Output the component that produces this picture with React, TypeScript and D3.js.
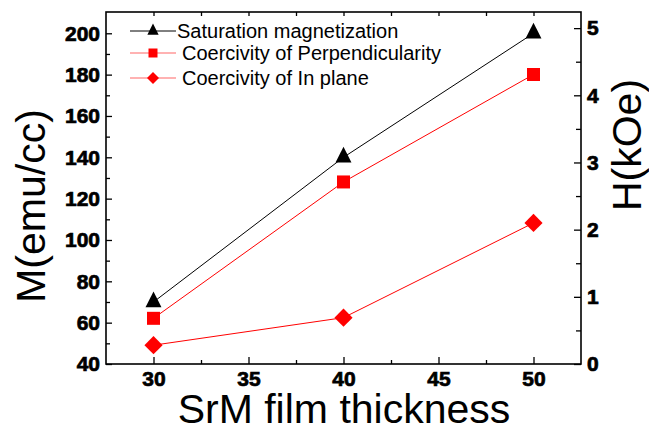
import React, { useEffect, useRef } from 'react';
import * as d3 from 'd3';

// film thickness (x) and the three measured series
const thickness = [30, 40, 50];
const saturation = [70, 140, 200]; // emu/cc, left axis
const coercivityPerp = [0.68, 2.71, 4.31]; // kOe, right axis
const coercivityInPlane = [0.28, 0.69, 2.1]; // kOe, right axis

const xTicks = [30, 35, 40, 45, 50];
const xMinor = [32.5, 37.5, 42.5, 47.5];
const leftTicks = [40, 60, 80, 100, 120, 140, 160, 180, 200];
const leftMinor = [50, 70, 90, 110, 130, 150, 170, 190];
const rightTicks = [0, 1, 2, 3, 4, 5];
const rightMinor = [0.5, 1.5, 2.5, 3.5, 4.5];

const legendLabels = ['Saturation magnetization', 'Coercivity of Perpendicularity', 'Coercivity of In plane'];

const W = 649, H = 428;
const FONT = 'Arial, "Liberation Sans", sans-serif';

export default function App() {
  const ref = useRef<SVGSVGElement | null>(null);

  useEffect(() => {
    const svg = d3.select(ref.current);
    svg.selectAll('*').remove();

    const left = 106, right = 581, top = 12, bottom = 364;

    const x = d3.scaleLinear().domain([27.5, 52.5]).range([left, right]);
    const yL = d3.scaleLinear().domain([40, 210.3]).range([bottom, top]);
    const yR = d3.scaleLinear().domain([0, 5.24]).range([bottom, top]);

    // axes (ticks point inward), heavy tick labels
    const styleAxis = (g: any) => {
      g.select('.domain').remove();
      g.selectAll('line').attr('stroke', '#000').attr('stroke-width', 1.3);
      g.selectAll('text')
        .style('font-family', FONT)
        .style('font-weight', 'bold')
        .style('font-size', '21px')
        .attr('fill', '#000')
        .attr('stroke', '#000')
        .attr('stroke-width', 0.7);
    };

    svg.append('g').attr('transform', `translate(0,${bottom})`)
      .call(d3.axisBottom(x).tickValues(xTicks).tickSize(-7).tickPadding(7).tickFormat(d3.format('d')))
      .call(styleAxis);
    svg.append('g').attr('transform', `translate(0,${bottom})`)
      .call(d3.axisBottom(x).tickValues(xMinor).tickSize(-4).tickFormat(() => ''))
      .call(styleAxis);
    svg.append('g').attr('transform', `translate(0,${top})`)
      .call(d3.axisTop(x).tickValues(xTicks.concat(xMinor)).tickSize(-4).tickFormat(() => ''))
      .call(styleAxis);

    svg.append('g').attr('transform', `translate(${left},0)`)
      .call(d3.axisLeft(yL).tickValues(leftTicks).tickSize(-6).tickPadding(6).tickFormat(d3.format('d')))
      .call(styleAxis);
    svg.append('g').attr('transform', `translate(${left},0)`)
      .call(d3.axisLeft(yL).tickValues(leftMinor).tickSize(-4).tickFormat(() => ''))
      .call(styleAxis);

    svg.append('g').attr('transform', `translate(${right},0)`)
      .call(d3.axisRight(yR).tickValues(rightTicks).tickSize(-7).tickPadding(6).tickFormat(d3.format('d')))
      .call(styleAxis);
    svg.append('g').attr('transform', `translate(${right},0)`)
      .call(d3.axisRight(yR).tickValues(rightMinor).tickSize(-5).tickFormat(() => ''))
      .call(styleAxis);

    // frame
    svg.append('rect')
      .attr('x', left).attr('y', top)
      .attr('width', right - left).attr('height', bottom - top)
      .attr('fill', 'none').attr('stroke', '#000').attr('stroke-width', 1.6);

    // axis titles
    svg.append('text')
      .attr('transform', `translate(45,206) rotate(-90)`)
      .attr('text-anchor', 'middle')
      .attr('font-family', FONT).attr('font-size', 41)
      .text('M(emu/cc)');
    svg.append('text')
      .attr('transform', `translate(641,145) rotate(-90)`)
      .attr('text-anchor', 'middle')
      .attr('font-family', FONT).attr('font-size', 41)
      .text('H(kOe)');
    svg.append('text')
      .attr('x', 344).attr('y', 423)
      .attr('text-anchor', 'middle')
      .attr('font-family', FONT).attr('font-size', 41)
      .text('SrM film thickness');

    // triangle: taller than equilateral; diamond: rotated square
    const series = [
      { values: saturation, y: yL, color: '#000', symbol: d3.symbolTriangle, size: 110, legSize: 55, tf: ' scale(1,1.15)' },
      { values: coercivityPerp, y: yR, color: '#ff0000', symbol: d3.symbolSquare, size: 169, legSize: 81, tf: '' },
      { values: coercivityInPlane, y: yR, color: '#ff0000', symbol: d3.symbolSquare, size: 165, legSize: 72, tf: ' rotate(45)' },
    ];

    series.forEach(s => {
      const line = d3.line<number>()
        .x((d, i) => x(thickness[i]))
        .y(d => s.y(d));
      svg.append('path')
        .attr('d', line(s.values))
        .attr('fill', 'none')
        .attr('stroke', s.color)
        .attr('stroke-width', 1);
      svg.selectAll(null)
        .data(s.values)
        .enter().append('path')
        .attr('d', d3.symbol().type(s.symbol).size(s.size)())
        .attr('transform', (d, i) => `translate(${x(thickness[i])},${s.y(d)})${s.tf}`)
        .attr('fill', s.color);
    });

    // legend
    const legRows = [31, 53, 78];
    series.forEach((s, i) => {
      const yy = legRows[i];
      svg.append('line')
        .attr('x1', 130).attr('x2', 176)
        .attr('y1', yy).attr('y2', yy)
        .attr('stroke', s.color).attr('stroke-width', 1)
        .attr('opacity', i === 0 ? 1 : 0.6);
      svg.append('path')
        .attr('d', d3.symbol().type(s.symbol).size(s.legSize)())
        .attr('transform', `translate(153,${yy})${s.tf}`)
        .attr('fill', s.color);
      svg.append('text')
        .attr('x', i === 0 ? 177 : 182).attr('y', yy + 7)
        .attr('font-family', FONT).attr('font-size', 20)
        .text(legendLabels[i]);
    });
  }, []);

  return (
    <svg ref={ref} width={W} height={H}
      style={{ position: 'absolute', left: 0, top: 0, background: '#fff' }} />
  );
}
